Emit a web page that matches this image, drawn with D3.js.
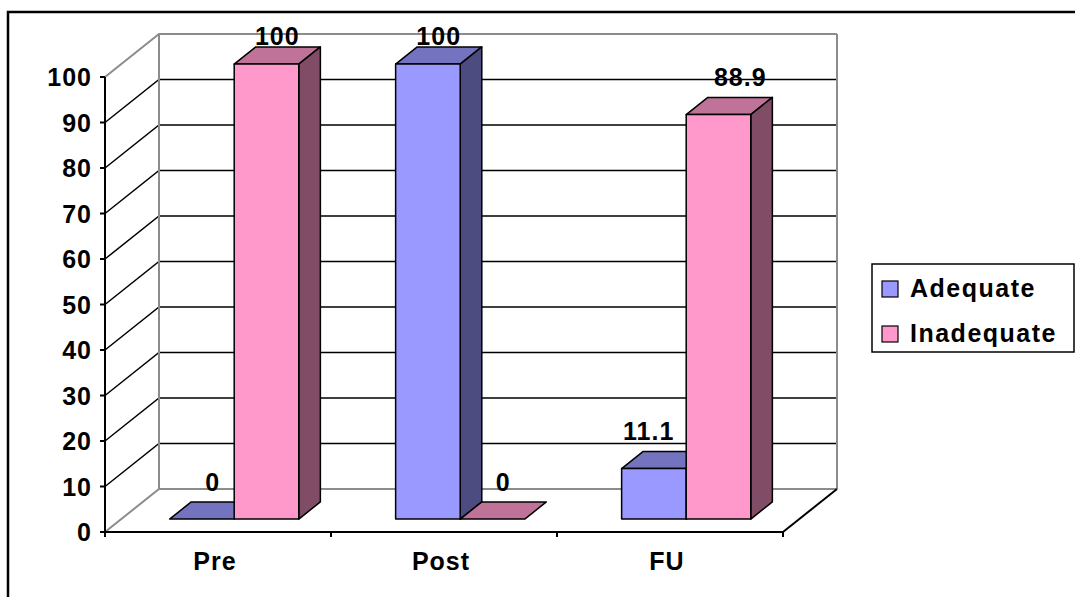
<html>
<head>
  <script src="https://cdnjs.cloudflare.com/ajax/libs/d3/7.8.5/d3.min.js"></script>
  <title>Adequate vs Inadequate</title>
  <style>
    body { margin: 0; background: #fff; }
    text { font-family: "Liberation Sans", Arial, sans-serif; font-weight: bold; }
  </style>
</head>
<body>
<script>
  // data
  const categories = ["Pre", "Post", "FU"];
  const seriesNames = ["Adequate", "Inadequate"];
  const adequate = [0, 100, 11.1];
  const inadequate = [100, 0, 88.9];
  const yTicks = [0, 10, 20, 30, 40, 50, 60, 70, 80, 90, 100];

  const colors = {
    Adequate: { front: "#9999FF", top: "#7373BF", side: "#4C4C80" },
    Inadequate: { front: "#FF99CC", top: "#BF7399", side: "#804C66" }
  };

  const w = 1075, h = 597;
  // front plane of the 3d box
  const plotLeft = 105, plotRight = 783, plotBottom = 532, plotTop = 77;
  // depth offset of the back wall
  const depthX = 54, depthY = -43;
  const z0 = 0.3, z1 = 0.7; // bars sit in the middle of the depth

  const svg = d3.select("body").append("svg")
    .attr("width", w)
    .attr("height", h);

  // outer chart border (runs off the right and bottom edge)
  svg.append("rect")
    .attr("x", 8).attr("y", 12)
    .attr("width", 1100).attr("height", 620)
    .attr("fill", "none")
    .attr("stroke", "#000")
    .attr("stroke-width", 2.5);

  const xScale = d3.scaleBand()
    .domain(categories)
    .range([plotLeft, plotRight])
    .paddingInner(0)
    .paddingOuter(0);

  const yScale = d3.scaleLinear()
    .domain([0, 100])
    .range([plotBottom, plotTop]);

  // project (x, y, z) with z in [0,1] from front to back
  const P = (x, y, z) => [x + depthX * z, y + depthY * z];
  const pts = arr => arr.map(p => p.join(",")).join(" ");

  // walls and gridlines
  const grid = svg.append("g");
  yTicks.forEach(v => {
    const y = yScale(v);
    const a = P(plotLeft, y, 0), b = P(plotLeft, y, 1), c = P(plotRight, y, 1);
    const edge = (v === 0 || v === 100);
    grid.append("polyline")
      .attr("points", pts([a, b, c]))
      .attr("fill", "none")
      .attr("stroke", edge ? "#8c8c8c" : "#000")
      .attr("stroke-width", edge ? 2 : 1.5);
  });
  // back wall verticals
  [plotLeft, plotRight].forEach(x => {
    const a = P(x, yScale(0), 1), b = P(x, yScale(100), 1);
    grid.append("line")
      .attr("x1", a[0]).attr("y1", a[1])
      .attr("x2", b[0]).attr("y2", b[1])
      .attr("stroke", "#8c8c8c")
      .attr("stroke-width", 2);
  });
  // floor right edge
  {
    const a = P(plotRight, yScale(0), 0), b = P(plotRight, yScale(0), 1);
    grid.append("line")
      .attr("x1", a[0]).attr("y1", a[1])
      .attr("x2", b[0]).attr("y2", b[1])
      .attr("stroke", "#000")
      .attr("stroke-width", 2);
  }

  // bars, gap width 150%
  const barW = xScale.bandwidth() / 3.5;
  const series = [adequate, inadequate];
  const bars = [];
  categories.forEach((c, ci) => {
    series.forEach((s, si) => {
      bars.push({ cat: c, name: seriesNames[si], value: s[ci],
        x: xScale(c) + barW * 0.75 + si * barW });
    });
  });

  const barG = svg.append("g");
  bars.forEach(d => {
    const yb = yScale(0), yt = yScale(d.value);
    const col = colors[d.name];
    const g = barG.append("g");
    const x0 = d.x, x1 = d.x + barW;
    // top
    g.append("polygon")
      .attr("points", pts([P(x0, yt, z0), P(x1, yt, z0), P(x1, yt, z1), P(x0, yt, z1)]))
      .attr("fill", col.top).attr("stroke", "#000").attr("stroke-width", 1.5)
      .attr("stroke-linejoin", "round");
    if (d.value > 0) {
      // side
      g.append("polygon")
        .attr("points", pts([P(x1, yb, z0), P(x1, yt, z0), P(x1, yt, z1), P(x1, yb, z1)]))
        .attr("fill", col.side).attr("stroke", "#000").attr("stroke-width", 1.5)
        .attr("stroke-linejoin", "round");
      // front
      g.append("polygon")
        .attr("points", pts([P(x0, yb, z0), P(x1, yb, z0), P(x1, yt, z0), P(x0, yt, z0)]))
        .attr("fill", col.front).attr("stroke", "#000").attr("stroke-width", 1.5)
        .attr("stroke-linejoin", "round");
    }
  });

  // value labels
  const labelNudge = { "FU-Adequate": -16, "FU-Inadequate": 11 };
  bars.forEach(d => {
    const c = P(d.x + barW / 2, yScale(d.value), (z0 + z1) / 2);
    const by = Math.max(c[1] - 20, 45);
    svg.append("text")
      .attr("x", c[0] + (labelNudge[d.cat + "-" + d.name] || 0))
      .attr("y", by)
      .attr("text-anchor", "middle")
      .style("font-size", "25px")
      .style("letter-spacing", "1px")
      .text(d.value);
  });

  // axes
  const yAxis = svg.append("g");
  yAxis.append("line")
    .attr("x1", plotLeft).attr("x2", plotLeft)
    .attr("y1", yScale(0)).attr("y2", yScale(100))
    .attr("stroke", "#000").attr("stroke-width", 2);
  yTicks.forEach(v => {
    yAxis.append("line")
      .attr("x1", plotLeft - 5).attr("x2", plotLeft)
      .attr("y1", yScale(v)).attr("y2", yScale(v))
      .attr("stroke", "#000").attr("stroke-width", 2);
    yAxis.append("text")
      .attr("x", 92).attr("y", yScale(v) + 9)
      .attr("text-anchor", "end")
      .style("font-size", "25px")
      .style("letter-spacing", "1px")
      .text(v);
  });

  const xAxis = svg.append("g");
  xAxis.append("line")
    .attr("x1", plotLeft).attr("x2", plotRight)
    .attr("y1", plotBottom).attr("y2", plotBottom)
    .attr("stroke", "#000").attr("stroke-width", 2);
  [plotLeft].concat(categories.map(c => xScale(c) + xScale.bandwidth())).forEach(x => {
    xAxis.append("line")
      .attr("x1", x).attr("x2", x)
      .attr("y1", plotBottom).attr("y2", plotBottom + 5)
      .attr("stroke", "#000").attr("stroke-width", 2);
  });
  categories.forEach(c => {
    xAxis.append("text")
      .attr("x", xScale(c) + xScale.bandwidth() / 2 - 3)
      .attr("y", 570)
      .attr("text-anchor", "middle")
      .style("font-size", "25px")
      .style("letter-spacing", "1px")
      .text(c);
  });

  // legend
  const legend = svg.append("g");
  legend.append("rect")
    .attr("x", 872).attr("y", 264)
    .attr("width", 202).attr("height", 88)
    .attr("fill", "#fff").attr("stroke", "#000").attr("stroke-width", 1.5);
  seriesNames.forEach((n, i) => {
    legend.append("rect")
      .attr("x", 882).attr("y", 281 + i * 45)
      .attr("width", 16).attr("height", 16)
      .attr("fill", colors[n].front)
      .attr("stroke", "#000").attr("stroke-width", 1.2);
    legend.append("text")
      .attr("x", 910).attr("y", 297 + i * 45)
      .style("font-size", "25px")
      .style("letter-spacing", "1.5px")
      .text(n);
  });
</script>
</body>
</html>
